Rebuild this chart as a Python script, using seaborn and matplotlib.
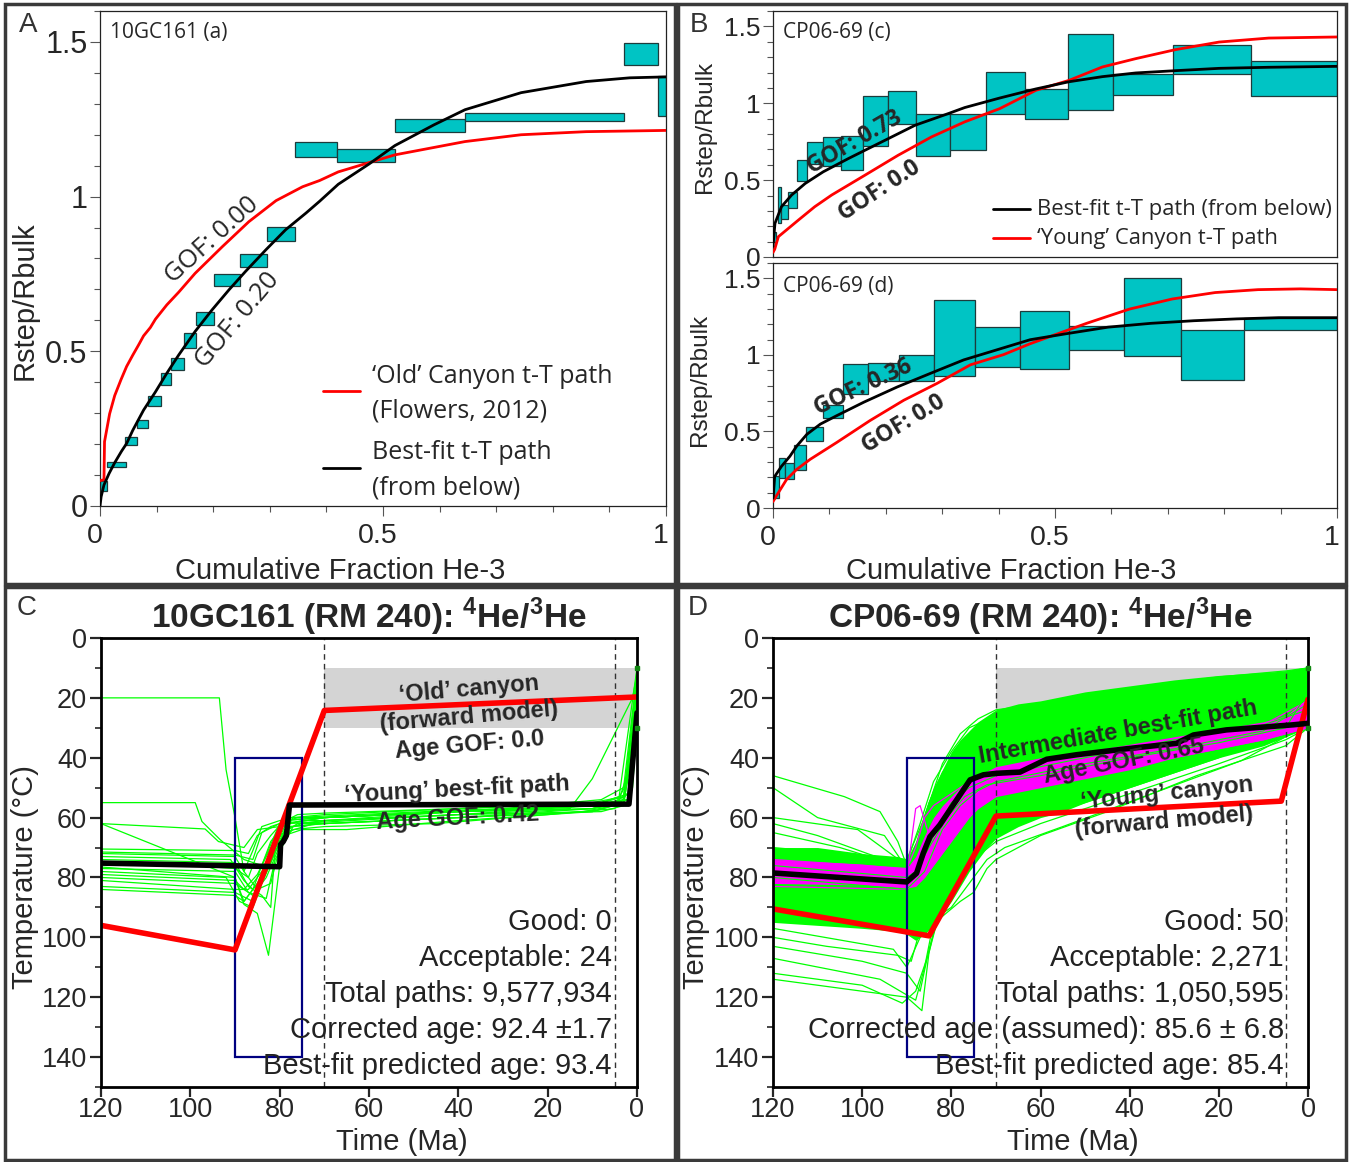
#!/usr/bin/env python3
"""
Figura 4He/3He: espectros de pasos (A, B) y trayectorias t-T (C, D)
"""

import numpy as np
import pandas as pd
import matplotlib
matplotlib.use('Agg')
import matplotlib.pyplot as plt
import seaborn as sns
from matplotlib.patches import Rectangle
from matplotlib.ticker import MultipleLocator, FuncFormatter
from matplotlib.transforms import ScaledTranslation

sns.set_theme(style='ticks')
plt.rcParams['font.family'] = ['Liberation Sans', 'DejaVu Sans']
plt.rcParams['mathtext.fontset'] = 'custom'
plt.rcParams['mathtext.rm'] = 'Liberation Sans'
plt.rcParams['mathtext.bf'] = 'Liberation Sans:bold'

W, H = 1351, 1162
MYRIAD = ['Open Sans', 'DejaVu Sans']
TEAL = '#00c4c4'
LIME = '#00ff00'

# ---------------- panel A : 10GC161 ----------------
a_x0 = [0.000, 0.013, 0.044, 0.065, 0.085, 0.107, 0.126, 0.149, 0.170, 0.201, 0.248, 0.295, 0.345, 0.419, 0.521, 0.645, 0.926, 0.985]
a_x1 = [0.012, 0.046, 0.065, 0.085, 0.107, 0.126, 0.149, 0.170, 0.201, 0.248, 0.295, 0.345, 0.419, 0.521, 0.645, 0.926, 0.985, 1.000]
a_lo = [0.050, 0.127, 0.197, 0.251, 0.324, 0.392, 0.438, 0.510, 0.586, 0.710, 0.772, 0.856, 1.129, 1.113, 1.210, 1.245, 1.427, 1.260]
a_hi = [0.080, 0.143, 0.222, 0.278, 0.357, 0.429, 0.478, 0.559, 0.627, 0.751, 0.816, 0.902, 1.175, 1.153, 1.251, 1.269, 1.498, 1.391]

a_old_x = [0, 0.007, 0.008, 0.017, 0.026, 0.037, 0.047, 0.058, 0.068, 0.077, 0.089, 0.098, 0.118, 0.139, 0.168,
           0.216, 0.263, 0.311, 0.358, 0.388, 0.421, 0.521, 0.645, 0.744, 0.859, 1.0]
a_old_y = [0.082, 0.085, 0.208, 0.298, 0.357, 0.408, 0.451, 0.488, 0.520, 0.550, 0.577, 0.604, 0.650, 0.691, 0.752,
           0.838, 0.919, 0.987, 1.032, 1.052, 1.080, 1.135, 1.178, 1.200, 1.210, 1.214]
a_fit_x = [0, 0.002, 0.007, 0.016, 0.026, 0.038, 0.047, 0.058, 0.077, 0.098, 0.118, 0.139, 0.168, 0.198, 0.228,
           0.257, 0.293, 0.328, 0.364, 0.388, 0.421, 0.475, 0.521, 0.590, 0.645, 0.744, 0.859, 0.936, 1.0]
a_fit_y = [0, 0.030, 0.068, 0.105, 0.140, 0.177, 0.202, 0.245, 0.310, 0.369, 0.429, 0.488, 0.564, 0.634, 0.699,
           0.758, 0.828, 0.893, 0.947, 0.985, 1.040, 1.105, 1.165, 1.232, 1.281, 1.336, 1.372, 1.384, 1.387]

# ---------------- panel B : CP06-69 (c) ----------------
bc_x0 = [0.000, 0.008, 0.014, 0.026, 0.042, 0.061, 0.089, 0.120, 0.159, 0.204, 0.254, 0.313, 0.378, 0.447, 0.523, 0.603, 0.709, 0.848]
bc_x1 = [0.005, 0.014, 0.026, 0.042, 0.061, 0.089, 0.120, 0.159, 0.204, 0.254, 0.313, 0.378, 0.447, 0.523, 0.603, 0.709, 0.848, 1.000]
bc_lo = [0.097, 0.223, 0.245, 0.320, 0.494, 0.608, 0.591, 0.565, 0.720, 0.866, 0.659, 0.693, 0.931, 0.896, 0.957, 1.052, 1.193, 1.045]
bc_hi = [0.162, 0.455, 0.338, 0.422, 0.630, 0.749, 0.781, 0.787, 1.045, 1.082, 0.929, 0.929, 1.202, 1.094, 1.452, 1.193, 1.382, 1.277]

bc_fit_x = [0, 0.0035, 0.015, 0.033, 0.057, 0.089, 0.134, 0.193, 0.252, 0.311, 0.340, 0.402, 0.466, 0.525,
            0.584, 0.643, 0.714, 0.791, 0.879, 1.0]
bc_fit_y = [0.07, 0.219, 0.327, 0.403, 0.478, 0.554, 0.641, 0.749, 0.857, 0.933, 0.972, 1.034, 1.093, 1.140,
            1.173, 1.197, 1.212, 1.227, 1.234, 1.240]
bc_young_x = [0, 0.003, 0.0095, 0.045, 0.074, 0.104, 0.163, 0.222, 0.281, 0.340, 0.402, 0.466, 0.525, 0.584,
              0.643, 0.714, 0.791, 0.879, 1.0]
bc_young_y = [0.03, 0.05, 0.132, 0.240, 0.327, 0.403, 0.532, 0.662, 0.781, 0.879, 0.965, 1.084, 1.149, 1.236,
              1.290, 1.349, 1.398, 1.424, 1.431]

# ---------------- panel B : CP06-69 (d) ----------------
bd_x0 = [0.001, 0.011, 0.021, 0.038, 0.058, 0.088, 0.124, 0.168, 0.224, 0.286, 0.359, 0.438, 0.524, 0.622, 0.724, 0.835]
bd_x1 = [0.010, 0.021, 0.038, 0.058, 0.088, 0.124, 0.168, 0.224, 0.286, 0.359, 0.438, 0.524, 0.622, 0.724, 0.835, 1.000]
bd_lo = [0.064, 0.197, 0.190, 0.247, 0.439, 0.587, 0.742, 0.830, 0.830, 0.865, 0.920, 0.905, 1.029, 0.990, 0.838, 1.162]
bd_hi = [0.212, 0.329, 0.291, 0.411, 0.528, 0.671, 0.940, 0.947, 1.002, 1.357, 1.182, 1.285, 1.186, 1.505, 1.162, 1.243]

bd_fit_x = [0, 0.003, 0.015, 0.030, 0.042, 0.060, 0.084, 0.113, 0.161, 0.220, 0.279, 0.338, 0.397, 0.456,
            0.518, 0.594, 0.670, 0.746, 0.822, 0.897, 1.0]
bd_fit_y = [0.064, 0.206, 0.272, 0.338, 0.404, 0.481, 0.548, 0.603, 0.691, 0.790, 0.879, 0.967, 1.033, 1.099,
            1.137, 1.181, 1.206, 1.223, 1.235, 1.243, 1.243]
bd_young_x = [0, 0.009, 0.024, 0.042, 0.066, 0.113, 0.172, 0.232, 0.291, 0.350, 0.409, 0.456, 0.556, 0.632,
              0.708, 0.784, 0.860, 0.935, 1.0]
bd_young_y = [0.042, 0.097, 0.186, 0.252, 0.318, 0.428, 0.571, 0.704, 0.814, 0.935, 1.002, 1.073, 1.206, 1.299,
              1.365, 1.407, 1.426, 1.431, 1.426]

# ---------------- panel C : 10GC161 t-T ----------------
c_red_t = [120, 90, 70, 0]
c_red_T = [96, 104.2, 24.2, 19.7]
c_fit_t = [120, 80, 79.8, 79.2, 78.5, 77.8, 1.8, 0]
c_fit_T = [75.2, 76.4, 69, 68, 66, 55.8, 55.5, 25]
c_green = [
    [(120, 20), (93.5, 20), (92, 44), (90, 60), (88, 78), (85, 84), (82, 82), (80, 70), (78, 62), (70, 60), (40, 58), (10, 56), (3, 54), (1, 30), (0, 15)],
    [(120, 55), (98.9, 55), (97.4, 61.3), (93.3, 67.4), (88, 74), (84, 76), (80, 62), (76, 59), (70, 58.5), (40, 57), (10, 55), (3, 53), (0.5, 20), (0, 10)],
    [(120, 62), (96.7, 63.8), (93.7, 68), (88, 70), (85, 64), (80, 63), (75, 61), (70, 61), (40, 59), (8, 58), (3, 56), (1, 35), (0, 22)],
    [(120, 62), (105, 71), (90, 80), (88, 88), (84, 80), (81, 66), (78, 60), (70, 60), (40, 58), (10, 57), (2, 55), (0, 28)],
    [(120, 70.5), (90, 71), (87, 72), (85, 66), (82, 63), (76, 60), (70, 59.5), (40, 57.5), (6, 56), (2, 52), (0, 18)],
    [(120, 71.5), (90, 72.5), (86, 74), (84, 65), (80, 62), (74, 61), (70, 60), (30, 57), (8, 54), (3, 50), (0, 12)],
    [(120, 73), (91, 74), (88, 81), (86, 84), (82, 68), (79, 62), (70, 61.5), (40, 59), (10, 57), (4, 54), (1, 40), (0, 25)],
    [(120, 74), (90, 75), (87, 83), (84, 86), (82, 90), (81, 70), (78, 60), (70, 60), (40, 58), (10, 56), (2, 54), (0, 14)],
    [(120, 76.5), (90, 80), (88, 89), (85, 92), (82.5, 106), (81, 88), (79, 64), (75, 62), (70, 62), (40, 60), (12, 58), (5, 56), (1, 45), (0, 20)],
    [(120, 77), (90, 78), (87, 85), (83, 87), (81, 74), (77, 63), (70, 62), (40, 60), (10, 58), (3, 55), (0, 30)],
    [(120, 78), (92, 80), (89, 88), (86, 90), (84, 82), (80, 68), (77, 64), (70, 63), (45, 62), (20, 59), (5, 57), (1, 50), (0, 28)],
    [(120, 79), (90, 81), (88, 84), (85, 79), (82, 70), (78, 63), (70, 62), (40, 60), (10, 57), (2, 54), (0, 16)],
    [(120, 80), (90, 82), (86, 86), (83, 80), (79, 66), (75, 64), (65, 64), (40, 61), (10, 58), (3, 55), (0, 22)],
    [(120, 81), (90, 84), (87, 84), (84, 78), (82, 75), (79, 65), (70, 61), (40, 59), (10, 56), (4, 53), (0, 10)],
    [(120, 83), (90, 85), (86, 88), (82, 75), (80, 66), (76, 62), (70, 61), (40, 58), (15, 57), (10, 47), (1, 20), (0, 12)],
    [(120, 84), (90, 86), (88, 88), (85, 82), (81, 70), (77, 60), (70, 59), (40, 57), (8, 55), (2, 52), (0, 30)],
    [(120, 75), (100, 76), (90, 77), (87, 80), (85, 72), (82, 66), (79, 61), (70, 60), (40, 58), (10, 56), (3, 53), (0, 18)],
    [(120, 72), (90, 73), (88, 78), (86, 71), (84, 63), (80, 61), (70, 60), (40, 58), (10, 56), (2, 54), (0, 25)],
]
c_stats = ['Good: 0', 'Acceptable: 24', 'Total paths: 9,577,934',
           'Corrected age: 92.4 \u00b11.7', 'Best-fit predicted age: 93.4']

# ---------------- panel D : CP06-69 t-T ----------------
d_red_t = [120, 85, 70, 6, 0]
d_red_T = [90.5, 99.5, 59.5, 54.5, 20.5]
d_fit_t = [120, 90, 87.8, 86.3, 84.8, 82.6, 80.3, 78.1, 75.8, 72.8, 69.8, 64.6, 58.6, 51.9, 40.7, 29.5, 25.7, 18.3, 3.3, 0]
d_fit_T = [78.5, 81.5, 78.6, 71.9, 66.4, 62.5, 57.4, 52.5, 47.4, 45.7, 45.2, 44.8, 40.5, 39.0, 37.0, 35.2, 32.4, 30.7, 29.0, 28.5]
# densely overlapping acceptable paths: envelope of the solid core
d_core_t = [120, 110, 100, 92, 90, 88, 86, 84, 82, 80, 78, 76, 74, 72, 70, 65, 60, 55, 50, 40, 30, 20, 10, 5, 0]
d_core_top = [70, 70, 72, 73, 74, 68, 58, 50, 44, 38, 34, 31, 28, 26, 24, 22, 21, 19.5, 18, 16, 14, 12.5, 11.5, 11, 10]
d_core_bot = [95, 96, 97, 98, 99, 101, 99, 96, 92, 88, 83, 78, 74, 70, 67, 63, 60, 58, 55, 50, 45, 40, 36, 33, 30]
# good paths band
d_good_t = [120, 100, 90, 88, 86, 84, 82, 80, 78, 76, 74, 72, 70, 60, 50, 40, 30, 20, 10, 5, 0]
d_good_top = [74, 75.5, 77, 73, 66, 60, 56, 53, 50, 48, 46, 44.5, 43, 40, 38, 35.5, 33, 30.5, 28, 26, 20]
d_good_bot = [82, 82.5, 83.5, 83, 80, 76, 72, 68, 64, 60, 57, 55, 53, 50, 47, 44, 40, 37, 34, 32, 30]
d_green = [
    [(120, 46), (104, 53), (96, 58), (92, 68), (90, 76), (88, 70), (85, 55), (82, 45), (78, 36), (74, 30), (70, 27), (60, 24), (40, 19), (20, 15), (5, 12), (0, 10)],
    [(120, 50), (110, 60), (95, 66), (90, 77), (86, 62), (82, 50), (78, 40), (72, 33), (70, 31), (50, 25), (30, 19), (10, 14), (0, 11)],
    [(120, 60), (101, 64), (90, 76), (87, 68), (83, 55), (79, 44), (75, 36), (70, 32), (55, 28), (40, 24), (20, 19), (5, 15), (0, 12)],
    [(120, 62), (110, 66), (97, 73), (90, 78), (86, 66), (80, 47), (76, 40), (70, 35), (50, 30), (30, 24), (10, 18), (0, 14)],
    [(120, 65), (105, 70), (92, 76), (89, 80), (85, 63), (80, 53), (74, 44), (70, 38), (50, 33), (30, 27), (10, 21), (0, 16)],
    [(120, 103), (100, 108), (90, 112), (87, 118), (85, 104), (82, 88), (78, 70), (72, 58), (70, 55), (40, 45), (10, 30), (0, 22)],
    [(120, 107), (96, 114), (88, 121), (86, 110), (84, 95), (80, 80), (76, 66), (70, 60), (50, 50), (20, 38), (0, 25)],
    [(120, 112), (100, 116), (91, 122), (88, 118), (85, 105), (83, 92), (79, 75), (74, 65), (70, 62), (40, 48), (10, 33), (0, 28)],
    [(120, 114), (90, 120), (86.6, 124.5), (85, 105), (82, 88), (78, 72), (72, 62), (70, 60), (40, 48), (10, 34), (0, 27)],
    [(120, 100), (108, 103), (92, 106), (89, 108), (86, 92), (82, 80), (78, 70), (70, 64), (50, 55), (20, 40), (0, 26)],
    [(120, 97), (93, 104), (90, 110), (87, 100), (84, 90), (80, 82), (75, 74), (70, 68), (60, 62), (40, 52), (20, 42), (5, 34), (0, 30)],
    [(120, 90), (90, 95), (86, 96), (82, 93), (78, 88), (75, 85), (72, 77), (70, 74), (60, 66), (45, 58), (25, 46), (5, 36), (0, 30)],
    [(120, 88), (90, 93), (85, 95), (80, 90), (76, 82), (72, 74), (68, 70), (55, 63), (35, 52), (15, 41), (0, 29)],
    [(120, 70), (90, 74), (86, 60), (82, 42), (78, 32), (74, 27), (70, 24), (60, 22), (40, 17), (20, 13), (5, 11), (0, 10)],
    [(120, 72), (90, 75), (87, 62), (84, 48), (80, 38), (76, 30), (70, 26), (55, 24), (35, 20), (15, 14), (0, 10)],
    [(120, 78), (90, 82), (87, 76), (84, 66), (80, 55), (76, 50), (70, 46), (50, 40), (30, 34), (10, 29), (0, 24)],
    [(120, 80), (90, 84), (86, 78), (82, 64), (78, 56), (74, 51), (70, 48), (50, 42), (30, 37), (10, 31), (0, 22)],
    [(120, 76), (90, 80), (88, 78), (85, 70), (81, 60), (77, 53), (72, 49), (60, 46), (40, 40), (20, 35), (5, 30), (0, 18)],
]
d_magenta = [
    [(120, 74), (90, 77), (88, 70), (86, 60), (84, 56), (80, 52), (76, 48), (70, 44), (50, 39), (30, 34), (10, 29), (0, 21)],
    [(120, 83), (90, 84), (87, 80), (84, 72), (81, 64), (78, 58), (74, 54), (70, 52), (50, 46), (30, 40), (10, 34), (0, 30)],
    [(120, 78), (90, 80), (88, 57), (87, 56), (85, 66), (82, 60), (78, 55), (72, 50), (60, 46), (40, 41), (20, 35), (0, 26)],
]
d_stats = ['Good: 50', 'Acceptable: 2,271', 'Total paths: 1,050,595',
           'Corrected age (assumed): 85.6 \u00b1 6.8', 'Best-fit predicted age: 85.4']

# constraints shared by C and D
box_t = (90, 75)
box_T = (40, 140)
band_t = (70, 0)
band_T = (10, 30)
dashed_t = [70, 5]
end_T = [10, 30]
stat_T = [95, 107, 119, 131, 143]


def add_axes_px(fig, x0, y0, x1, y1):
    return fig.add_axes([x0 / W, 1 - y1 / H, (x1 - x0) / W, (y1 - y0) / H])


def fig_text(fig, x, y, s, **kw):
    fig.text(x / W, 1 - y / H, s, **kw)


def paths_frame(paths):
    rows = []
    for i, p in enumerate(paths):
        for t, T in p:
            rows.append((i, t, T))
    return pd.DataFrame(rows, columns=['path', 'time', 'temp'])


def step_panel(ax, x0, x1, lo, hi, fit_x, fit_y, other_x, other_y, y_labelsize):
    ax.bar(x0, np.subtract(hi, lo), width=np.subtract(x1, x0), bottom=lo, align='edge',
           color=TEAL, edgecolor='#1d3b3b', linewidth=0.9, zorder=2)
    sns.lineplot(x=other_x, y=other_y, ax=ax, color='#ff0000', lw=2.0, sort=False, estimator=None, zorder=3)
    sns.lineplot(x=fit_x, y=fit_y, ax=ax, color='black', lw=2.0, sort=False, estimator=None, zorder=4)
    ax.set_xlim(0, 1)
    ax.set_ylim(0, 1.6)
    ax.set_xticks([0, 0.5, 1])
    ax.xaxis.set_minor_locator(MultipleLocator(0.1))
    ax.yaxis.set_major_locator(MultipleLocator(0.5))
    ax.yaxis.set_minor_locator(MultipleLocator(0.1))
    fmt = FuncFormatter(lambda v, p: f'{v:g}')
    ax.xaxis.set_major_formatter(fmt)
    ax.yaxis.set_major_formatter(fmt)
    ax.tick_params(which='major', direction='out', length=7, width=0.8, color='#555555', pad=2)
    ax.tick_params(which='minor', direction='out', length=4, width=0.8, color='#555555')
    ax.tick_params(axis='x', labelsize=20.5, pad=5)
    ax.tick_params(axis='y', labelsize=y_labelsize)
    shift = ScaledTranslation(-5 / 100, 0, ax.figure.dpi_scale_trans)
    for lbl in ax.get_xticklabels():
        lbl.set_transform(lbl.get_transform() + shift)
    for s in ax.spines.values():
        s.set_linewidth(0.9)
        s.set_color('#222222')
    ax.set_xlabel('')
    ax.set_ylabel('')


def tT_panel(ax):
    ax.add_patch(Rectangle((band_t[1], band_T[0]), band_t[0] - band_t[1], band_T[1] - band_T[0],
                           facecolor='#d4d4d4', edgecolor='none', zorder=0))
    ax.set_xlim(120, 0)
    ax.set_ylim(150, 0)
    ax.xaxis.set_major_locator(MultipleLocator(20))
    ax.yaxis.set_major_locator(MultipleLocator(20))
    ax.yaxis.set_minor_locator(MultipleLocator(10))
    ax.tick_params(which='major', direction='out', length=8, width=1.6, labelsize=19.5, pad=2)
    ax.tick_params(which='minor', direction='out', length=4, width=1.2)
    ax.tick_params(axis='x', length=7, pad=0, labelsize=19.5)
    for s in ax.spines.values():
        s.set_linewidth(2.0)
        s.set_color('black')
        s.set_zorder(10)


def finish_tT(ax, red_t, red_T, fit_t, fit_T, stats, stat_x):
    for t in dashed_t:
        ax.axvline(t, color='#333333', lw=1.0, ls=(0, (4, 3)), zorder=5)
    ax.add_patch(Rectangle((box_t[1], box_T[0]), box_t[0] - box_t[1], box_T[1] - box_T[0],
                           fill=False, edgecolor='#000080', lw=1.6, zorder=6))
    sns.lineplot(x=red_t, y=red_T, ax=ax, color='#ff0000', lw=4, sort=False, estimator=None, zorder=7)
    sns.lineplot(x=fit_t, y=fit_T, ax=ax, color='black', lw=4, sort=False, estimator=None, zorder=8)
    ax.plot([0] * len(end_T), end_T, 's', ms=3, color='#118811', clip_on=False, zorder=11)
    for s, T in zip(stats, stat_T):
        ax.text(stat_x, T, s, ha='right', va='center', fontsize=21, color='#222222', zorder=9)
    ax.set_xlabel('')
    ax.set_ylabel('')


fig = plt.figure(figsize=(W / 100, H / 100), dpi=100)

# panel frames
for (x0, y0, x1, y1) in [(5, 4, 675, 584), (678, 4, 1346, 584), (5, 587, 675, 1160), (678, 587, 1346, 1160)]:
    fig.add_artist(Rectangle((x0 / W, 1 - y1 / H), (x1 - x0) / W, (y1 - y0) / H, transform=fig.transFigure,
                             fill=False, lw=2.5, edgecolor='#3a3a3a'))

# ---- A ----
axA = add_axes_px(fig, 100, 11, 666, 506)
step_panel(axA, a_x0, a_x1, a_lo, a_hi, a_fit_x, a_fit_y, a_old_x, a_old_y, 22)
axA.text(0.018, 0.956, '10GC161 (a)', transform=axA.transAxes, family=MYRIAD, fontsize=15, va='center')
axA.text(0.198, 0.858, 'GOF: 0.00', rotation=42, family=MYRIAD, fontsize=18.5, ha='center', va='center')
axA.text(0.242, 0.600, 'GOF: 0.20', rotation=50, family=MYRIAD, fontsize=18.5, ha='center', va='center')
axA.plot([0.394, 0.459], [0.232, 0.232], color='#ff0000', lw=2, transform=axA.transAxes)
axA.plot([0.394, 0.459], [0.077, 0.077], color='black', lw=2, transform=axA.transAxes)
for s, y in [('\u2018Old\u2019 Canyon t-T path', 0.261), ('(Flowers, 2012)', 0.192),
             ('Best-fit t-T path', 0.109), ('(from below)', 0.036)]:
    axA.text(0.481, y, s, transform=axA.transAxes, family=MYRIAD, fontsize=18, va='center')
fig_text(fig, 25, 301, 'Rstep/Rbulk', rotation=90, ha='center', va='center', fontsize=21)
fig_text(fig, 340, 571, 'Cumulative Fraction He-3', ha='center', va='center', fontsize=21)
fig_text(fig, 28, 25, 'A', ha='center', va='center', fontsize=20, color='#333333')

# ---- B ----
axBc = add_axes_px(fig, 773, 11, 1337, 257)
step_panel(axBc, bc_x0, bc_x1, bc_lo, bc_hi, bc_fit_x, bc_fit_y, bc_young_x, bc_young_y, 19)
axBc.tick_params(axis='x', which='both', bottom=False, labelbottom=False)
axBc.text(0.018, 0.911, 'CP06-69 (c)', transform=axBc.transAxes, family=MYRIAD, fontsize=15, va='center')
axBc.text(0.145, 0.745, 'GOF: 0.73', rotation=30, family=MYRIAD, fontsize=16.5, fontweight='bold',
          ha='center', va='center', zorder=6)
axBc.text(0.188, 0.432, 'GOF: 0.0', rotation=33, family=MYRIAD, fontsize=16.5, fontweight='bold',
          ha='center', va='center', zorder=6)
axBc.plot([0.390, 0.456], [0.195, 0.195], color='black', lw=2, transform=axBc.transAxes)
axBc.plot([0.390, 0.456], [0.077, 0.077], color='#ff0000', lw=2, transform=axBc.transAxes)
axBc.text(0.468, 0.195, 'Best-fit t-T path (from below)', transform=axBc.transAxes, family=MYRIAD,
          fontsize=15.8, va='center')
axBc.text(0.468, 0.077, '\u2018Young\u2019 Canyon t-T path', transform=axBc.transAxes, family=MYRIAD,
          fontsize=15.8, va='center')

axBd = add_axes_px(fig, 773, 263, 1337, 508)
step_panel(axBd, bd_x0, bd_x1, bd_lo, bd_hi, bd_fit_x, bd_fit_y, bd_young_x, bd_young_y, 19)
axBd.text(0.018, 0.906, 'CP06-69 (d)', transform=axBd.transAxes, family=MYRIAD, fontsize=15, va='center')
axBd.text(0.160, 0.786, 'GOF: 0.36', rotation=25, family=MYRIAD, fontsize=16.5, fontweight='bold',
          ha='center', va='center', zorder=6)
axBd.text(0.232, 0.550, 'GOF: 0.0', rotation=31, family=MYRIAD, fontsize=16.5, fontweight='bold',
          ha='center', va='center', zorder=6)
fig_text(fig, 705, 127, 'Rstep/Rbulk', rotation=90, ha='center', va='center', fontsize=17.5)
fig_text(fig, 700, 380, 'Rstep/Rbulk', rotation=90, ha='center', va='center', fontsize=17.5)
fig_text(fig, 1011, 571, 'Cumulative Fraction He-3', ha='center', va='center', fontsize=21)
fig_text(fig, 699, 25, 'B', ha='center', va='center', fontsize=20, color='#333333')

# ---- C ----
axC = add_axes_px(fig, 101, 638, 637, 1087)
tT_panel(axC)
sns.lineplot(data=paths_frame(c_green), x='time', y='temp', units='path', estimator=None, sort=False,
             ax=axC, color=LIME, lw=0.9, zorder=2, legend=False)
finish_tT(axC, c_red_t, c_red_T, c_fit_t, c_fit_T, c_stats, 5.6)
bold = dict(fontsize=17, fontweight='bold', ha='center', va='center', zorder=9)
axC.text(37.6, 17.2, '\u2018Old\u2019 canyon', rotation=5, **bold)
axC.text(37.6, 26.4, '(forward model)', rotation=5, **bold)
axC.text(37.4, 35.7, 'Age GOF: 0.0', rotation=5, **bold)
axC.text(40.3, 50.8, '\u2018Young\u2019 best-fit path', rotation=3, **bold)
axC.text(40.1, 60.1, 'Age GOF: 0.42', rotation=3, **bold)
fig_text(fig, 369, 617, r'10GC161 (RM 240): $^{\mathbf{4}}$He/$^{\mathbf{3}}$He', ha='center', va='center',
         fontsize=24, fontweight='bold')
fig_text(fig, 25, 877, 'Temperature (\u00b0C)', rotation=90, ha='center', va='center', fontsize=21)
fig_text(fig, 402, 1142, 'Time (Ma)', ha='center', va='center', fontsize=21)
fig_text(fig, 27, 608, 'C', ha='center', va='center', fontsize=20, color='#333333')

# ---- D ----
axD = add_axes_px(fig, 773, 638, 1308, 1087)
tT_panel(axD)
axD.fill_between(d_core_t, d_core_top, d_core_bot, color=LIME, lw=0, zorder=1)
sns.lineplot(data=paths_frame(d_green), x='time', y='temp', units='path', estimator=None, sort=False,
             ax=axD, color=LIME, lw=0.9, zorder=2, legend=False)
axD.fill_between(d_good_t, d_good_top, d_good_bot, color='#ff00ff', lw=0, zorder=3)
sns.lineplot(data=paths_frame(d_magenta), x='time', y='temp', units='path', estimator=None, sort=False,
             ax=axD, color='#ff00ff', lw=0.9, zorder=3, legend=False)
sns.lineplot(data=paths_frame(d_green[15:]), x='time', y='temp', units='path', estimator=None, sort=False,
             ax=axD, color=LIME, lw=0.8, zorder=4, legend=False)
finish_tT(axD, d_red_t, d_red_T, d_fit_t, d_fit_T, d_stats, 5.4)
axD.text(42.5, 31.3, 'Intermediate best-fit path', rotation=10, **bold)
axD.text(41.4, 41.3, 'Age GOF: 0.65', rotation=11, **bold)
axD.text(31.7, 52.1, '\u2018Young\u2019 canyon', rotation=6, **bold)
axD.text(32.4, 61.4, '(forward model)', rotation=5, **bold)
fig_text(fig, 1040, 617, r'CP06-69 (RM 240): $^{\mathbf{4}}$He/$^{\mathbf{3}}$He', ha='center', va='center',
         fontsize=24, fontweight='bold')
fig_text(fig, 696, 877, 'Temperature (\u00b0C)', rotation=90, ha='center', va='center', fontsize=21)
fig_text(fig, 1073, 1142, 'Time (Ma)', ha='center', va='center', fontsize=21)
fig_text(fig, 698, 608, 'D', ha='center', va='center', fontsize=20, color='#333333')

fig.savefig('out.png', dpi=100)
plt.close(fig)
